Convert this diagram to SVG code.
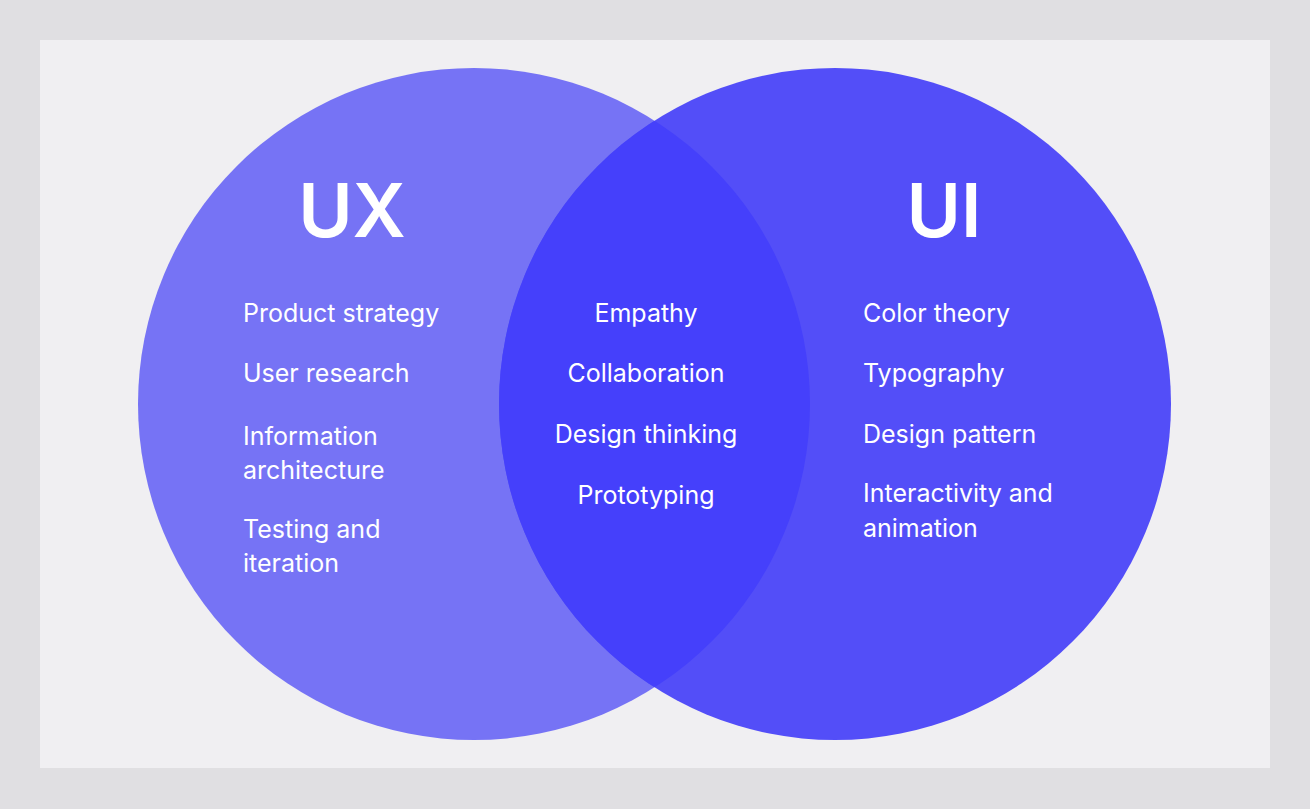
<svg xmlns="http://www.w3.org/2000/svg" width="1310" height="809" viewBox="0 0 1310 809">
<style>
.t{font-family:"Inter","Liberation Sans",sans-serif;font-size:25px;fill:#fff}
.h{font-family:"Inter","Liberation Sans",sans-serif;font-size:74px;font-weight:600;fill:#fff;text-anchor:middle}
.m{text-anchor:middle}
</style>
<defs><clipPath id="cl"><circle cx="474" cy="404" r="336"/></clipPath></defs>
<rect width="1310" height="809" fill="#e0dfe2"/>
<rect x="40" y="40" width="1230" height="728" fill="#f0eff2"/>
<g id="ux"><circle cx="474" cy="404" r="336" fill="#7673f5"/></g>
<g id="ui"><circle cx="835" cy="404" r="336" fill="#534ef8"/></g>
<g id="both"><circle cx="835" cy="404" r="336" fill="#4540fb" clip-path="url(#cl)"/></g>
<g id="connectors"/>
<text class="h" x="352" y="237">UX</text>
<text class="h" x="944" y="237">UI</text>
<g class="t">
<text x="243" y="322">Product strategy</text>
<text x="243" y="382">User research</text>
<text x="243" y="445">Information</text>
<text x="243" y="479">architecture</text>
<text x="243" y="538">Testing and</text>
<text x="243" y="572">iteration</text>
<text class="t m" x="646" y="322">Empathy</text>
<text class="t m" x="646" y="382">Collaboration</text>
<text class="t m" x="646" y="443">Design thinking</text>
<text class="t m" x="646" y="504">Prototyping</text>
<text x="863" y="322">Color theory</text>
<text x="863" y="382">Typography</text>
<text x="863" y="443">Design pattern</text>
<text x="863" y="502">Interactivity and</text>
<text x="863" y="537">animation</text>
</g>
</svg>
